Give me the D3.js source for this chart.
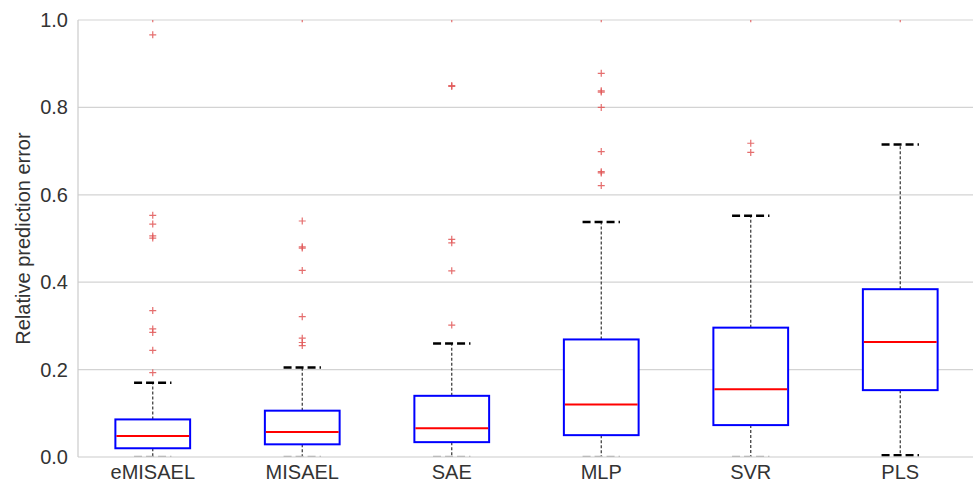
<!DOCTYPE html>
<html>
<head>
<meta charset="utf-8">
<script src="https://cdn.jsdelivr.net/npm/d3@7/dist/d3.min.js"></script>
<style>
  html, body { margin: 0; padding: 0; background: #fff; }
  svg { display: block; font-family: "Liberation Sans", Arial, sans-serif; }
</style>
</head>
<body>
<svg id="chart" width="973" height="486"></svg>
<script>
// Methods compared
const methods = ["eMISAEL", "MISAEL", "SAE", "MLP", "SVR", "PLS"];

// Box statistics per method
const q1     = [0.020, 0.029, 0.034, 0.050, 0.073, 0.153];
const median = [0.048, 0.057, 0.066, 0.120, 0.155, 0.263];
const q3     = [0.086, 0.106, 0.140, 0.269, 0.296, 0.384];
const whiskerLow  = [0.000, 0.000, 0.000, 0.000, 0.000, 0.004];
const whiskerHigh = [0.170, 0.205, 0.260, 0.538, 0.552, 0.715];

// Outliers per method
const outliers = [
  [0.193, 0.244, 0.285, 0.293, 0.335, 0.501, 0.506, 0.533, 0.553, 0.966, 1.003],
  [0.255, 0.262, 0.272, 0.321, 0.427, 0.478, 0.481, 0.540, 1.003],
  [0.302, 0.426, 0.490, 0.498, 0.848, 0.850, 1.003],
  [0.621, 0.650, 0.653, 0.699, 0.800, 0.835, 0.838, 0.878, 1.003],
  [0.697, 0.718, 1.003],
  [1.003]
];

const yTicks = [0.0, 0.2, 0.4, 0.6, 0.8, 1.0];

const svg = d3.select("#chart");
const margin = { left: 78, top: 20, bottom: 29 };
const plotRight = 975;
const H = 486;
const fontSize = 20;

const x = d3.scaleBand().domain(methods).range([margin.left, plotRight]).padding(0);
const y = d3.scaleLinear().domain([0, 1]).range([H - margin.bottom, margin.top]);

svg.append("defs").append("clipPath").attr("id", "plot-clip")
  .append("rect")
  .attr("x", margin.left).attr("y", margin.top)
  .attr("width", plotRight - margin.left)
  .attr("height", y(0) - margin.top);

// Horizontal grid lines
svg.append("g").selectAll("line").data(yTicks.filter(t => t > 0)).join("line")
  .attr("x1", margin.left).attr("x2", plotRight)
  .attr("y1", d => y(d)).attr("y2", d => y(d))
  .attr("stroke", "#d3d3d3").attr("stroke-width", 1.2);

const marks = svg.append("g").attr("clip-path", "url(#plot-clip)");
const boxW = x.bandwidth() * 0.5;
const capW = x.bandwidth() * 0.25;
const cx = m => x(m) + x.bandwidth() / 2;

const groups = marks.selectAll("g.box").data(methods.map((m, i) => ({
  m, q1: q1[i], med: median[i], q3: q3[i], lo: whiskerLow[i], hi: whiskerHigh[i], out: outliers[i]
}))).join("g").attr("class", "box");

// Whiskers
groups.append("line")
  .attr("x1", d => cx(d.m)).attr("x2", d => cx(d.m))
  .attr("y1", d => y(d.q3)).attr("y2", d => y(d.hi))
  .attr("stroke", "#333").attr("stroke-width", 1.2).attr("stroke-dasharray", "3,2");
groups.append("line")
  .attr("x1", d => cx(d.m)).attr("x2", d => cx(d.m))
  .attr("y1", d => y(d.q1)).attr("y2", d => y(d.lo))
  .attr("stroke", "#333").attr("stroke-width", 1.2).attr("stroke-dasharray", "3,2");

// Whisker caps
groups.append("line")
  .attr("x1", d => cx(d.m) - capW / 2).attr("x2", d => cx(d.m) + capW / 2)
  .attr("y1", d => y(d.hi)).attr("y2", d => y(d.hi))
  .attr("stroke", "#000").attr("stroke-width", 2.5).attr("stroke-dasharray", "8,4");
groups.append("line")
  .attr("x1", d => cx(d.m) - capW / 2).attr("x2", d => cx(d.m) + capW / 2)
  .attr("y1", d => y(d.lo)).attr("y2", d => y(d.lo))
  .attr("stroke", d => d.lo > 0 ? "#000" : "#aaa").attr("stroke-width", 2.5).attr("stroke-dasharray", "8,4");

// Boxes
groups.append("rect")
  .attr("x", d => cx(d.m) - boxW / 2).attr("width", boxW)
  .attr("y", d => y(d.q3)).attr("height", d => y(d.q1) - y(d.q3))
  .attr("fill", "#fff").attr("stroke", "#0000ff").attr("stroke-width", 2);

// Medians
groups.append("line")
  .attr("x1", d => cx(d.m) - boxW / 2 + 1).attr("x2", d => cx(d.m) + boxW / 2 - 1)
  .attr("y1", d => y(d.med)).attr("y2", d => y(d.med))
  .attr("stroke", "#ff0000").attr("stroke-width", 2);

// Outlier markers
const arm = 3.5;
groups.each(function(d) {
  d3.select(this).selectAll("path.out").data(d.out).join("path")
    .attr("class", "out")
    .attr("d", v => {
      const px = cx(d.m), py = y(v);
      return `M${px - arm},${py}H${px + arm}M${px},${py - arm}V${py + arm}`;
    })
    .attr("stroke", "#e05555").attr("stroke-opacity", 0.85).attr("stroke-width", 1.2).attr("fill", "none");
});

// Axis frame lines
svg.append("line")
  .attr("x1", margin.left).attr("x2", margin.left)
  .attr("y1", margin.top).attr("y2", y(0))
  .attr("stroke", "#cccccc").attr("stroke-width", 1.2);
svg.append("line")
  .attr("x1", margin.left).attr("x2", plotRight)
  .attr("y1", y(0)).attr("y2", y(0))
  .attr("stroke", "#cccccc").attr("stroke-width", 1.2);

// Y axis labels
const yAxis = d3.axisLeft(y).tickValues(yTicks).tickFormat(d3.format(".1f")).tickSize(0).tickPadding(10);
const gy = svg.append("g").attr("transform", `translate(${margin.left},0)`).call(yAxis);
gy.select(".domain").remove();
gy.selectAll("text").attr("font-size", fontSize).attr("fill", "#333").attr("font-family", "Liberation Sans, Arial, sans-serif");

// X axis labels
const xAxis = d3.axisBottom(x).tickSize(0).tickPadding(8);
const gx = svg.append("g").attr("transform", `translate(0,${y(0)})`).call(xAxis);
gx.select(".domain").remove();
gx.selectAll("text").attr("font-size", fontSize).attr("fill", "#333").attr("font-family", "Liberation Sans, Arial, sans-serif");

// Y axis title
svg.append("text")
  .attr("transform", `translate(30,${(margin.top + y(0)) / 2}) rotate(-90)`)
  .attr("text-anchor", "middle")
  .attr("font-size", fontSize).attr("fill", "#333")
  .text("Relative prediction error");
</script>
</body>
</html>
